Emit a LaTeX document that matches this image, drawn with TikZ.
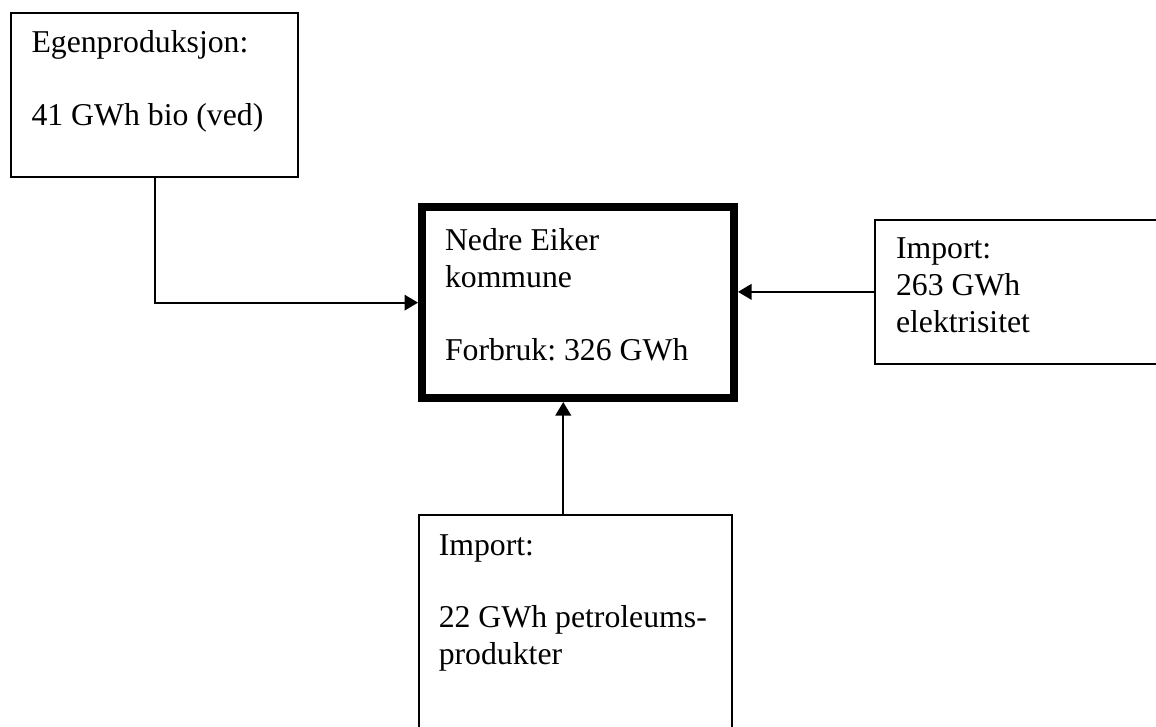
\documentclass[tikz,border=0pt]{standalone}
\usepackage{fontspec}
\setmainfont{Liberation Serif}
\usepackage{tikz}
\usetikzlibrary{positioning,arrows.meta}

\frenchspacing
\newcommand{\boksinnhold}[3]{\parbox[c][#2][t]{#1}{\raggedright\strut #3}}

\tikzset{
  boks/.style={draw, line width=0.8pt, anchor=north west, align=left,
    font=\fontsize{12.7}{14.8}\selectfont},
  pil/.style={line width=0.8pt, -{Triangle[length=5.4pt,width=6.2pt]}}
}

\begin{document}
\begin{tikzpicture}

\useasboundingbox (0,0) rectangle (462.4pt,-290.4pt);
\clip (0,0) rectangle (462.4pt,-290.4pt);

\node[boks, inner xsep=8.2pt, inner ysep=5.5pt] (egen) at (4pt,-4.8pt)
  {\boksinnhold{98.4pt}{54.6pt}{Egenproduksjon:\\[14.2pt]41 GWh bio (ved)}};

\node[boks, line width=3.2pt, inner xsep=9.2pt, inner ysep=7pt] (nedre) at (167.2pt,-81.3pt)
  {\boksinnhold{106.4pt}{62.3pt}{Nedre Eiker\\kommune\\[14.2pt]Forbruk: 326 GWh}};

\node[boks, inner xsep=8.4pt, inner ysep=4.84pt] (elek) at (349.6pt,-87.6pt)
  {\boksinnhold{103.6pt}{47.8pt}{Import:\\263 GWh\\elektrisitet}};

\node[boks, inner xsep=8pt, inner ysep=5.64pt] (petro) at (167.1pt,-205.6pt)
  {\boksinnhold{109.2pt}{81.1pt}{Import:\\[14.2pt]22 GWh petroleums-\\produkter}};

\draw[pil] (egen.south) |- (nedre.west);
\draw[pil] (elek.west) -- (elek.west -| nedre.east);
\draw[pil] ([xshift=-4.8pt]petro.north) -- ([xshift=-4.8pt]petro.north |- nedre.south);

\end{tikzpicture}
\end{document}
